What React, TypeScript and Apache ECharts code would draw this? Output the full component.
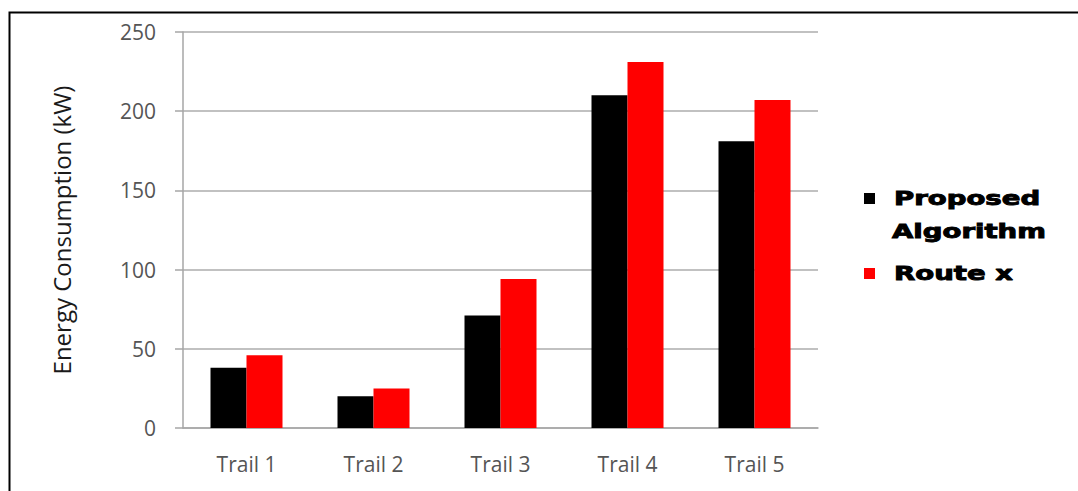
import React, { useEffect, useRef } from "react";
import * as echarts from "echarts";

const categories = ["Trail 1", "Trail 2", "Trail 3", "Trail 4", "Trail 5"];
const proposedValues = [38, 20, 71, 210, 181];
const routeXValues = [46, 25, 94, 231, 207];
const yTicks = { min: 0, max: 250, interval: 50 };
const seriesNames = ["Proposed Algorithm", "Route x"];
const seriesColors = ["#000000", "#ff0000"];
const yAxisTitle = "Energy Consumption (kW)";

export default function App() {
  const ref = useRef<HTMLDivElement>(null);
  useEffect(() => {
    if (!ref.current) return;
    const chart = echarts.init(ref.current, null, { renderer: "svg" });
    const legendFont = 'bold 19px "DejaVu Sans"';
    const legendText = (text: string, x: number, y: number) => ({
      type: "text",
      x,
      y,
      scaleX: 1.45,
      style: {
        text,
        font: legendFont,
        fill: "#000000",
        stroke: "#000000",
        lineWidth: 0.9,
        verticalAlign: "middle",
      },
    });
    chart.setOption({
      animation: false,
      backgroundColor: "#ffffff",
      grid: { left: 183, right: 260, top: 32, bottom: 63, containLabel: false },
      xAxis: {
        type: "category",
        data: categories,
        axisLine: { show: true, lineStyle: { color: "#a6a6a6", width: 1.5 } },
        axisTick: { show: false },
        axisLabel: {
          margin: 25,
          fontFamily: "Open Sans",
          fontSize: 21,
          color: "#555555",
        },
      },
      yAxis: {
        type: "value",
        min: yTicks.min,
        max: yTicks.max,
        interval: yTicks.interval,
        name: yAxisTitle,
        nameLocation: "middle",
        nameRotate: 90,
        nameGap: 110,
        nameTextStyle: { fontFamily: "Open Sans", fontSize: 24, color: "#1a1a1a" },
        axisLine: { show: true, lineStyle: { color: "#a6a6a6", width: 1.5 } },
        axisTick: { show: true, length: 8, lineStyle: { color: "#a6a6a6", width: 1.5 } },
        axisLabel: {
          margin: 27,
          fontFamily: "Open Sans",
          fontSize: 21,
          color: "#555555",
        },
        splitLine: { show: true, lineStyle: { color: "#adadad", width: 1.5 } },
      },
      series: [
        {
          name: seriesNames[0],
          type: "bar",
          data: proposedValues,
          barWidth: 36,
          barGap: "0%",
          itemStyle: { color: seriesColors[0] },
        },
        {
          name: seriesNames[1],
          type: "bar",
          data: routeXValues,
          barWidth: 36,
          barGap: "0%",
          itemStyle: { color: seriesColors[1] },
        },
      ],
      graphic: [
        {
          type: "rect",
          left: 7,
          top: 10,
          shape: { x: 0, y: 0, width: 1100, height: 520 },
          style: { fill: "none", stroke: "#000000", lineWidth: 2 },
          silent: true,
        },
        {
          type: "rect",
          shape: { x: 864, y: 193, width: 11, height: 11 },
          style: { fill: seriesColors[0] },
        },
        {
          type: "rect",
          shape: { x: 864, y: 268, width: 11, height: 11 },
          style: { fill: seriesColors[1] },
        },
        legendText("Proposed", 894, 199),
        legendText("Algorithm", 892, 232),
        legendText("Route x", 894, 274),
      ],
    });
    return () => chart.dispose();
  }, []);
  return (
    <div
      ref={ref}
      style={{ position: "absolute", left: 0, top: 0, width: 1078, height: 491, background: "#fff" }}
    />
  );
}
